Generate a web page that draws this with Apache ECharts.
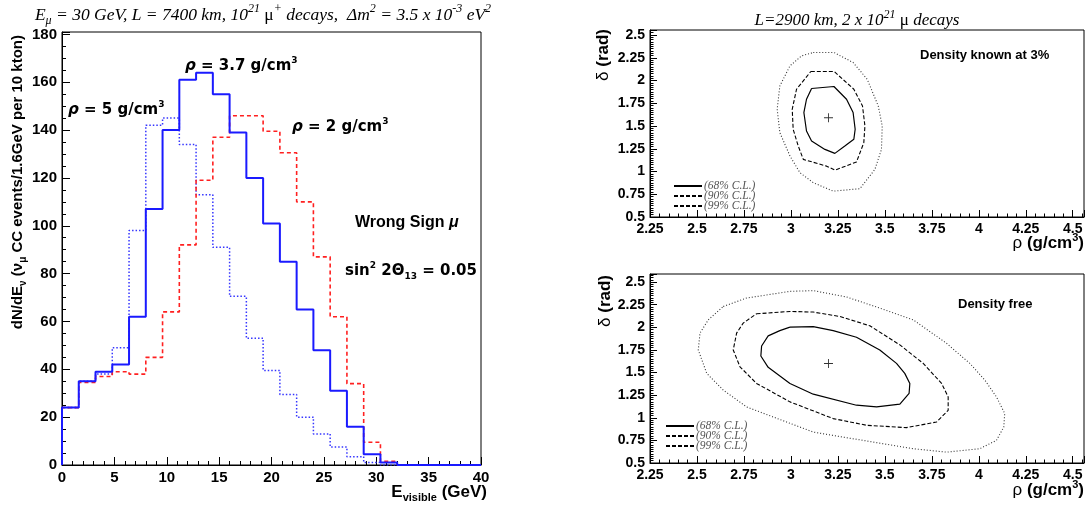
<!DOCTYPE html>
<html><head><meta charset="utf-8">
<script src="https://cdn.jsdelivr.net/npm/echarts@6/dist/echarts.min.js"></script>
<style>html,body{margin:0;padding:0;background:#fff}#c{width:1089px;height:506px}</style>
</head><body><div id="c"></div>
<script>
// ---------- DATA ----------
const binWidth = 1.6; // GeV per bin, 25 bins from 0 to 40
const rho37 = [24, 35, 39, 42, 62, 107, 140, 161, 164, 155, 139, 120, 101, 85, 65, 48, 31, 16, 4.5, 1, 0, 0, 0, 0, 0];
const rho2  = [24, 34.5, 37, 39, 38, 45, 64, 92, 119, 137, 146, 146, 139.5, 130.5, 110, 87, 62, 34, 9.5, 1.5, 0, 0, 0, 0, 0];
const rho5  = [24, 35, 38, 49, 98, 142, 145, 134, 113, 91, 70.5, 53, 39.5, 29.5, 20, 13, 7.5, 3.5, 1, 0, 0, 0, 0, 0, 0];

const top68 = [[3.110,1.912],[3.229,1.934],[3.296,1.794],[3.331,1.648],[3.342,1.464],[3.335,1.354],[3.287,1.280],[3.234,1.199],[3.181,1.243],[3.110,1.335],[3.083,1.445],[3.069,1.648],[3.083,1.794],[3.110,1.912]];
const top90 = [[3.106,2.099],[3.230,2.099],[3.335,1.904],[3.381,1.720],[3.394,1.500],[3.388,1.317],[3.349,1.104],[3.234,1.015],[3.190,1.059],[3.066,1.133],[3.039,1.280],[3.012,1.464],[3.007,1.684],[3.030,1.904],[3.106,2.099]];
const top99 = [[3.119,2.308],[3.229,2.308],[3.331,2.198],[3.406,2.014],[3.465,1.720],[3.486,1.500],[3.482,1.243],[3.447,1.023],[3.367,0.811],[3.225,0.784],[3.119,0.877],[3.048,0.987],[2.995,1.170],[2.941,1.427],[2.927,1.684],[2.941,1.940],[2.995,2.161],[3.057,2.271],[3.119,2.308]];
const bot68 = [[2.995,2.002],[3.119,2.009],[3.225,1.964],[3.349,1.891],[3.473,1.750],[3.562,1.602],[3.606,1.491],[3.633,1.380],[3.629,1.269],[3.580,1.150],[3.456,1.120],[3.349,1.139],[3.119,1.261],[2.995,1.380],[2.879,1.558],[2.840,1.683],[2.844,1.794],[2.879,1.906],[2.941,1.964],[2.995,2.002]];
const bot90 = [[2.817,2.150],[2.995,2.176],[3.119,2.169],[3.261,2.120],[3.420,2.017],[3.580,1.806],[3.704,1.602],[3.802,1.380],[3.837,1.231],[3.837,1.083],[3.775,0.953],[3.615,0.891],[3.403,0.917],[3.225,0.991],[2.995,1.176],[2.817,1.380],[2.729,1.564],[2.693,1.750],[2.711,1.936],[2.746,2.047],[2.817,2.150]];
const bot99 = [[2.640,2.231],[2.764,2.324],[2.995,2.398],[3.119,2.406],[3.296,2.336],[3.473,2.213],[3.651,2.083],[3.828,1.824],[3.952,1.602],[4.032,1.417],[4.094,1.231],[4.138,1.047],[4.133,0.898],[4.094,0.750],[4.005,0.658],[3.828,0.620],[3.651,0.658],[3.438,0.731],[3.119,0.842],[2.977,0.953],[2.764,1.120],[2.640,1.306],[2.552,1.491],[2.507,1.750],[2.516,1.936],[2.560,2.083],[2.640,2.231]];
const bestFitTop = [[3.2, 1.59]];
const bestFitBot = [[3.2, 1.60]];
const clNames = ['(68% C.L.)', '(90% C.L.)', '(99% C.L.)'];

// ---------- helpers ----------
function histPoints(vals) {
  const pts = [[0, 0]];
  vals.forEach((v, i) => pts.push([i * binWidth, v]));
  pts.push([vals.length * binWidth, vals[vals.length - 1]]);
  return pts;
}
const SANS = 'Liberation Sans';
const DJ = 'DejaVu Sans';
const SERIF = 'Liberation Serif';
function axisBase(idx, min, max, interval, minorSplit, fs, majLen, minLen, showMax) {
  return {
    type: 'value', gridIndex: idx, min: min, max: max, interval: interval,
    axisLine: {show: true, onZero: false, lineStyle: {color: '#000', width: 1}},
    axisTick: {show: true, inside: true, length: majLen, lineStyle: {color: '#000', width: 1}},
    minorTick: {show: true, splitNumber: minorSplit, length: minLen, lineStyle: {color: '#000', width: 1}},
    splitLine: {show: false},
    axisLabel: {color: '#000', fontFamily: SANS, fontWeight: 'bold', fontSize: fs, margin: 5, showMaxLabel: !!showMax}
  };
}
const cl = (color, width, type) => ({type: 'line', symbol: 'none', showSymbol: false, smooth: false, silent: true,
  itemStyle: {color: color}, lineStyle: {color: color, width: width, type: type}});

const supTok = (fs, fam, fw, style) => ({fontSize: fs, fontFamily: fam, fontWeight: fw || 'normal', fontStyle: style || 'normal', lineHeight: fs, verticalAlign: 'top', fill: '#000'});
const subTok = (fs, fam, fw, style) => ({fontSize: fs, fontFamily: fam, fontWeight: fw || 'normal', fontStyle: style || 'normal', lineHeight: fs, verticalAlign: 'bottom', fill: '#000'});

function txt(x, y, text, rich, align, rot, vAlign) {
  return {type: 'text', x: x, y: y, rotation: rot || 0, silent: true,
    style: {text: text, rich: rich, align: align || 'left', verticalAlign: vAlign || 'middle', fill: '#000'}};
}

const titleRich = {
  i: {fontFamily: SERIF, fontStyle: 'italic', fontSize: 17.5, lineHeight: 24, fill: '#000'},
  u: {fontFamily: SERIF, fontSize: 17.5, lineHeight: 24, fill: '#000'},
  s: subTok(12, SERIF, 'normal', 'italic'),
  p: supTok(12, SERIF, 'normal', 'italic')
};
const titleRichR = {
  i: {fontFamily: SERIF, fontStyle: 'italic', fontSize: 17, lineHeight: 24, fill: '#000'},
  u: {fontFamily: SERIF, fontSize: 17, lineHeight: 24, fill: '#000'},
  p: supTok(12, SERIF, 'normal', 'italic')
};
const annRich = {
  b: {fontFamily: DJ, fontWeight: 'bold', fontSize: 15, lineHeight: 20, fill: '#000'},
  bi: {fontFamily: DJ, fontWeight: 'bold', fontStyle: 'italic', fontSize: 15, lineHeight: 20, fill: '#000'},
  p: supTok(9, DJ, 'bold'),
  s: subTok(9, DJ, 'bold')
};
const wrongRich = {
  b: {fontFamily: SANS, fontWeight: 'bold', fontSize: 16, lineHeight: 20, fill: '#000'},
  bi: {fontFamily: SANS, fontWeight: 'bold', fontStyle: 'italic', fontSize: 16, lineHeight: 20, fill: '#000'}
};
const yTitleRich = {
  b: {fontFamily: SANS, fontWeight: 'bold', fontSize: 15, lineHeight: 20, fill: '#000'},
  s: subTok(10, SANS, 'bold')
};
const axRich = {
  b: {fontFamily: SANS, fontWeight: 'bold', fontSize: 17, lineHeight: 22, fill: '#000'},
  n: {fontFamily: SANS, fontSize: 17, lineHeight: 22, fill: '#000'},
  p: supTok(11, SANS, 'bold'),
  S: subTok(11, SANS, 'bold')
};
const smallBold = {b: {fontFamily: SANS, fontWeight: 'bold', fontSize: 13, fill: '#000'}};

const legendData = clNames.map((n, i) => i === 2 ? {name: n, lineStyle: {type: [4, 2], color: '#000'}} : {name: n});
function legendAt(left, top) {
  return {data: legendData, orient: 'vertical', left: left, top: top, itemGap: -2, itemWidth: 28, itemHeight: 9, selectedMode: false,
    itemStyle: {color: 'rgba(0,0,0,0)', borderWidth: 0, opacity: 0},
    textStyle: {fontFamily: SERIF, fontStyle: 'italic', fontSize: 11.5, color: '#555', lineHeight: 9, padding: [0, 0, 0, -3]}};
}

const option = {
  animation: false,
  backgroundColor: '#fff',
  grid: [
    {left: 62, top: 32, width: 419, height: 433, show: true, borderColor: '#000', borderWidth: 1},
    {left: 650, top: 30, width: 434, height: 187, show: true, borderColor: '#000', borderWidth: 1},
    {left: 650, top: 274, width: 434, height: 189, show: true, borderColor: '#000', borderWidth: 1}
  ],
  xAxis: [
    axisBase(0, 0, 40, 5, 5, 15, 8, 4, true),
    axisBase(1, 2.25, 4.56, 0.25, 5, 14, 7, 3.5),
    axisBase(2, 2.25, 4.56, 0.25, 5, 14, 7, 3.5)
  ],
  yAxis: [
    axisBase(0, 0, 181, 20, 4, 15, 8, 4),
    axisBase(1, 0.5, 2.555, 0.25, 10, 14, 7, 3.5),
    axisBase(2, 0.5, 2.59, 0.25, 10, 14, 7, 3.5)
  ],
  legend: [legendAt(668, 175), legendAt(660, 415)],
  series: [
    Object.assign(cl('#3535ff', 1.5, [1.5, 2]), {step: 'end', xAxisIndex: 0, yAxisIndex: 0, data: histPoints(rho5)}),
    Object.assign(cl('#ff2020', 1.6, [4, 3]), {step: 'end', xAxisIndex: 0, yAxisIndex: 0, data: histPoints(rho2)}),
    Object.assign(cl('#1a1aff', 2, 'solid'), {step: 'end', xAxisIndex: 0, yAxisIndex: 0, data: histPoints(rho37)}),

    Object.assign(cl('#000', 1.2, 'solid'), {name: clNames[0], xAxisIndex: 1, yAxisIndex: 1, data: top68}),
    Object.assign(cl('#000', 1.1, [4, 2]), {name: clNames[1], xAxisIndex: 1, yAxisIndex: 1, data: top90}),
    Object.assign(cl('#333', 1.1, [1, 2]), {name: clNames[2], xAxisIndex: 1, yAxisIndex: 1, data: top99}),
    {type: 'scatter', xAxisIndex: 1, yAxisIndex: 1, data: bestFitTop, symbol: 'path://M4.5,0H5.5V4.5H10V5.5H5.5V10H4.5V5.5H0V4.5H4.5Z', symbolSize: 9, itemStyle: {color: '#000'}, silent: true},

    Object.assign(cl('#000', 1.2, 'solid'), {name: clNames[0], xAxisIndex: 2, yAxisIndex: 2, data: bot68}),
    Object.assign(cl('#000', 1.1, [4, 2]), {name: clNames[1], xAxisIndex: 2, yAxisIndex: 2, data: bot90}),
    Object.assign(cl('#333', 1.1, [1, 2]), {name: clNames[2], xAxisIndex: 2, yAxisIndex: 2, data: bot99}),
    {type: 'scatter', xAxisIndex: 2, yAxisIndex: 2, data: bestFitBot, symbol: 'path://M4.5,0H5.5V4.5H10V5.5H5.5V10H4.5V5.5H0V4.5H4.5Z', symbolSize: 9, itemStyle: {color: '#000'}, silent: true}
  ],
  graphic: [
    txt(263, 15, '{i|E}{s|μ}{i| = 30 GeV, L = 7400 km, 10}{p|21}{u| μ}{p|+}{i| decays,  Δm}{p|2}{i| = 3.5 x 10}{p|-3}{i| eV}{p|2}', titleRich, 'center'),
    txt(857, 21, '{i|L=2900 km, 2 x 10}{p|21}{u| μ}{i| decays}', titleRichR, 'center'),
    txt(185, 66, '{bi|ρ}{b| = 3.7 g/cm}{p|3}', annRich, 'left'),
    txt(68, 110, '{bi|ρ}{b| = 5 g/cm}{p|3}', annRich, 'left'),
    txt(292, 127, '{bi|ρ}{b| = 2 g/cm}{p|3}', annRich, 'left'),
    txt(355, 223, '{b|Wrong Sign }{bi|μ}', wrongRich, 'left'),
    txt(345, 271, '{b|sin}{p|2}{b| 2Θ}{s|13}{b| = 0.05}', annRich, 'left'),
    txt(18, 35, '{b|dN/dE}{s|ν}{b| (ν}{s|μ}{b| CC events/1.6GeV per 10 kton)}', yTitleRich, 'right', Math.PI / 2),
    txt(487, 492, '{b|E}{S|visible}{b| (GeV)}', axRich, 'right'),
    txt(603, 29, '{n|δ}{b| (rad)}', axRich, 'right', Math.PI / 2),
    txt(605, 275, '{n|δ}{b| (rad)}', axRich, 'right', Math.PI / 2),
    txt(1084, 243, '{n|ρ}{b| (g/cm}{p|3}{b|)}', axRich, 'right'),
    txt(1084, 490, '{n|ρ}{b| (g/cm}{p|3}{b|)}', axRich, 'right'),
    txt(920, 55, '{b|Density known at 3%}', smallBold, 'left'),
    txt(958, 304, '{b|Density free}', smallBold, 'left')
  ]
};
const chart = echarts.init(document.getElementById('c'), null, {renderer: 'canvas'});
chart.setOption(option);
</script>
</body></html>
